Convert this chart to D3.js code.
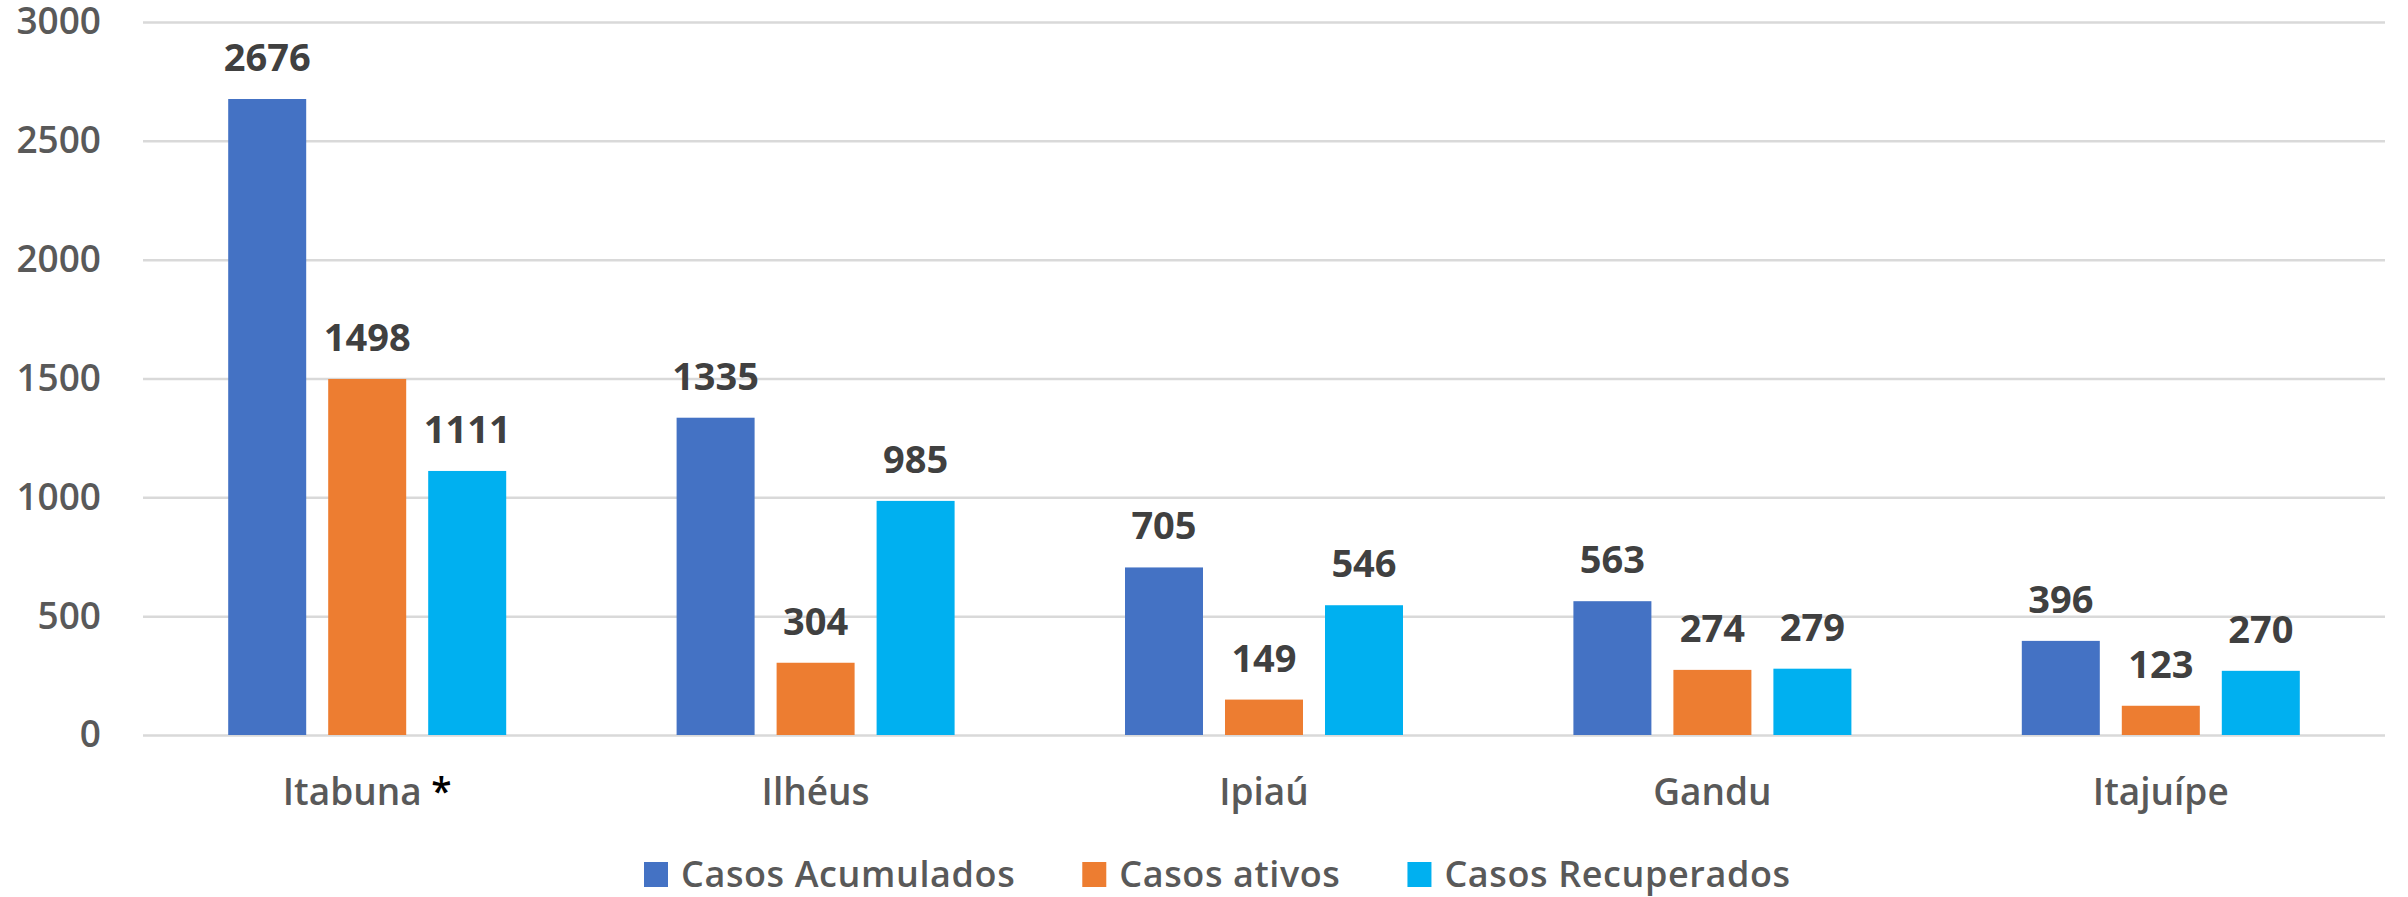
<!DOCTYPE html>
<html>
<head>
<meta charset="utf-8">
<script src="https://cdn.jsdelivr.net/npm/d3@7"></script>
<style>
  html, body { margin: 0; padding: 0; background: #fff; }
  svg { display: block; }
</style>
</head>
<body>
<script>
// data
var cities = ["Itabuna", "Ilhéus", "Ipiaú", "Gandu", "Itajuípe"];
var series = ["Casos Acumulados", "Casos ativos", "Casos Recuperados"];
var acumulados = [2676, 1335, 705, 563, 396];
var ativos = [1498, 304, 149, 274, 123];
var recuperados = [1111, 985, 546, 279, 270];
var yTicks = [0, 500, 1000, 1500, 2000, 2500, 3000];
var colors = ["#4472C4", "#ED7D31", "#00B0F0"];

var width = 2408,
    height = 897;
// plot area edges (note: "top" is reserved on window, so use plotTop)
var plotLeft = 143, plotRight = 2385, plotTop = 22, plotBottom = 735;

var svg = d3.select("body").append("svg")
    .attr("width", width)
    .attr("height", height);

svg.append("rect").attr("width", width).attr("height", height).attr("fill", "#fff");

var rows = cities.map(function (c, i) {
    return { city: c, values: [acumulados[i], ativos[i], recuperados[i]] };
});

var x0 = d3.scaleBand().domain(cities).range([plotLeft, plotRight]);
var groupW = 278;
var pad = (x0.bandwidth() - groupW) / 2;
var x1 = d3.scaleBand().domain(d3.range(series.length))
    .range([pad, pad + groupW])
    .paddingInner(0.22);
var y = d3.scaleLinear().domain([0, 3000]).range([plotBottom, plotTop]);

// grid + y labels
var yAxis = svg.append("g")
    .attr("transform", "translate(" + plotLeft + ",0)")
    .call(d3.axisLeft(y)
        .tickValues(yTicks)
        .tickFormat(d3.format("d"))
        .tickSize(-(plotRight - plotLeft))
        .tickPadding(42));
yAxis.select(".domain").remove();
yAxis.selectAll(".tick line")
    .attr("stroke", "#D9D9D9")
    .attr("stroke-width", 2.5);
yAxis.selectAll(".tick text")
    .attr("fill", "#595959")
    .attr("font-family", "'Open Sans', sans-serif")
    .attr("font-weight", 600)
    .attr("font-size", "37px");

// bars
var groups = svg.selectAll(".city")
    .data(rows)
    .enter().append("g")
    .attr("class", "city")
    .attr("transform", function (d) { return "translate(" + x0(d.city) + ",0)"; });

groups.selectAll("rect")
    .data(function (d) { return d.values; })
    .enter().append("rect")
    .attr("x", function (d, i) { return x1(i); })
    .attr("y", function (d) { return y(d); })
    .attr("width", x1.bandwidth())
    .attr("height", function (d) { return y(0) - y(d); })
    .attr("fill", function (d, i) { return colors[i]; });

groups.selectAll(".lbl")
    .data(function (d) { return d.values; })
    .enter().append("text")
    .attr("class", "lbl")
    .attr("x", function (d, i) { return x1(i) + x1.bandwidth() / 2; })
    .attr("y", function (d) { return y(d) - 28; })
    .attr("text-anchor", "middle")
    .attr("fill", "#404040")
    .attr("font-family", "'Open Sans', sans-serif")
    .attr("font-weight", 700)
    .attr("font-size", "38px")
    .text(function (d) { return d; });

// category labels
var cat = svg.selectAll(".cat")
    .data(cities)
    .enter().append("text")
    .attr("class", "cat")
    .attr("x", function (d) { return x0(d) + x0.bandwidth() / 2; })
    .attr("y", 805)
    .attr("text-anchor", "middle")
    .attr("fill", "#595959")
    .attr("font-family", "'Open Sans', sans-serif")
    .attr("font-weight", 600)
    .attr("font-size", "37px")
    .text(function (d) { return d; });
cat.filter(function (d) { return d === "Itabuna"; })
    .append("tspan")
    .attr("fill", "#000")
    .text(" *");

// legend
var legend = svg.append("g").attr("transform", "translate(644,862)");
var lx = 0;
series.forEach(function (s, i) {
    var item = legend.append("g").attr("transform", "translate(" + lx + ",0)");
    item.append("rect")
        .attr("width", 24)
        .attr("height", 25)
        .attr("fill", colors[i]);
    var t = item.append("text")
        .attr("x", 37)
        .attr("y", 25)
        .attr("fill", "#595959")
        .attr("font-family", "'Open Sans', sans-serif")
        .attr("font-weight", 600)
        .attr("font-size", "36px")
        .attr("letter-spacing", "0.6px")
        .text(s);
    lx += 37 + t.node().getComputedTextLength() + 67;
});
</script>
</body>
</html>
